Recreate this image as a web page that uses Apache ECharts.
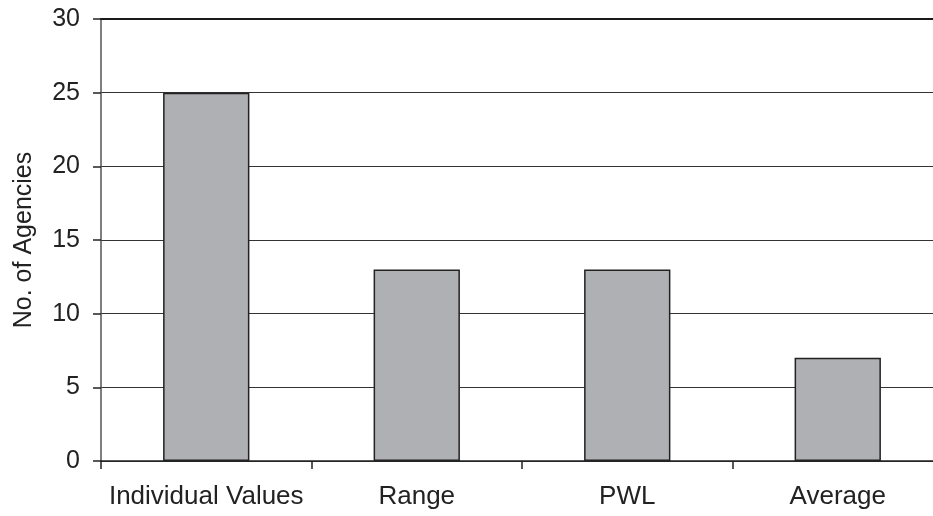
<!DOCTYPE html>
<html>
<head>
<meta charset="utf-8">
<style>
  html, body { margin: 0; padding: 0; background: #fff; }
  #chart { width: 933px; height: 516px; }
</style>
<script src="https://cdn.jsdelivr.net/npm/echarts@6/dist/echarts.min.js"></script>
</head>
<body>
<div id="chart"></div>
<script>
// Methods used by agencies
const categories = ['Individual Values', 'Range', 'PWL', 'Average'];
const agencyCounts = [25, 13, 13, 7];
const yTicks = { min: 0, max: 30, interval: 5 };

const chart = echarts.init(document.getElementById('chart'), null, { renderer: 'canvas' });
const font = 'Liberation Sans, Arial, sans-serif';

chart.setOption({
  animation: false,
  grid: {
    left: 101, right: -10, top: 19, bottom: 55,
    containLabel: false,
    outerBoundsMode: 'none'
  },
  xAxis: [{
    type: 'category',
    data: categories,
    boundaryGap: true,
    axisLine: { show: true, lineStyle: { color: '#222', width: 1.5 } },
    axisTick: { show: true, length: 8, interval: 0, lineStyle: { color: '#222', width: 1.5 } },
    axisLabel: { color: '#222', fontFamily: font, fontSize: 26, margin: 23, interval: 0, hideOverlap: false },
    splitLine: { show: false }
  }, {
    // heavier frame line along the top of the plot
    type: 'category',
    data: categories,
    position: 'top',
    axisLine: { show: true, lineStyle: { color: '#1a1a1a', width: 2.2 } },
    axisTick: { show: false },
    axisLabel: { show: false },
    splitLine: { show: false }
  }],
  yAxis: {
    type: 'value',
    min: yTicks.min,
    max: yTicks.max,
    interval: yTicks.interval,
    name: 'No. of Agencies',
    nameLocation: 'middle',
    nameGap: 64,
    nameRotate: 90,
    nameTextStyle: { color: '#222', fontFamily: font, fontSize: 25 },
    axisLine: { show: true, lineStyle: { color: '#555', width: 1.5 } },
    axisTick: { show: true, length: 8, lineStyle: { color: '#222', width: 1.5 } },
    axisLabel: { color: '#222', fontFamily: font, fontSize: 25, margin: 21 },
    splitLine: { show: true, lineStyle: { color: '#333', width: 1.2 } }
  },
  series: [{
    type: 'bar',
    data: agencyCounts,
    barWidth: '41%',
    itemStyle: { color: '#aeb0b3', borderColor: '#222', borderWidth: 1.5 },
    z: 3
  }]
});
</script>
</body>
</html>
